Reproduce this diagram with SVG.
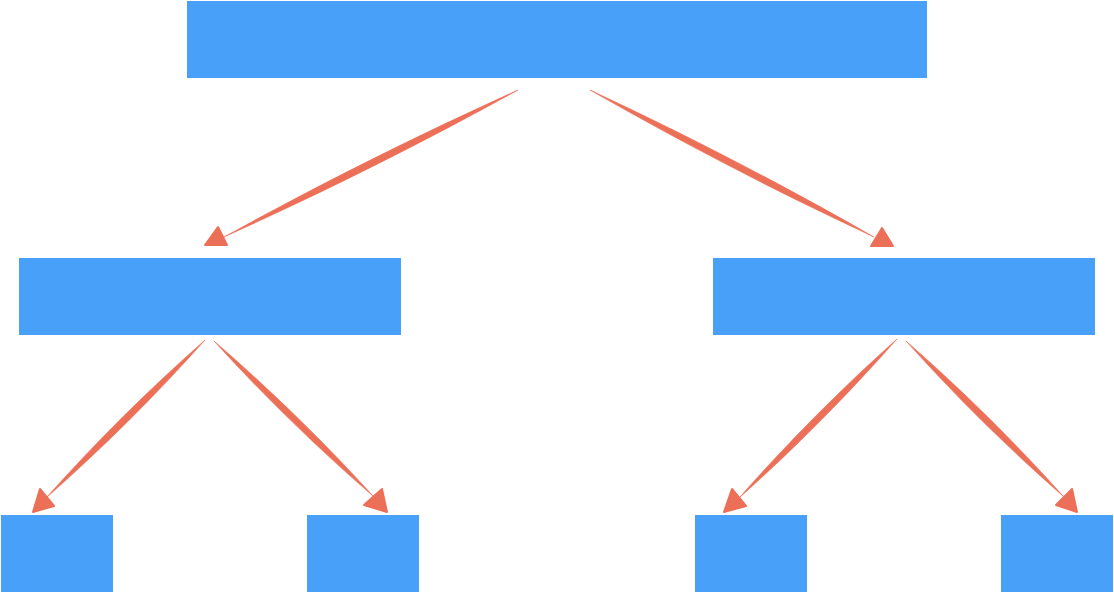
<svg xmlns="http://www.w3.org/2000/svg" width="1114" height="593" viewBox="0 0 1114 593">
<style>
.node{fill:#49a0f8}
.shaft{fill:#ec6f57;stroke:#ec6f57;stroke-width:0.6}
.head{fill:#ec6f57;stroke:#ec6f57;stroke-width:2;stroke-linejoin:round}
</style>
<rect width="1114" height="593" fill="#ffffff"/>
<g id="root"><rect class="node" x="187" y="1" width="740" height="77"/></g>
<g id="mid-left"><rect class="node" x="19" y="258" width="382" height="77"/></g>
<g id="mid-right"><rect class="node" x="713" y="258" width="382" height="77"/></g>
<g id="leaf-1"><rect class="node" x="1" y="515" width="112" height="77"/></g>
<g id="leaf-2"><rect class="node" x="307" y="515" width="112" height="77"/></g>
<g id="leaf-3"><rect class="node" x="695" y="515" width="112" height="77"/></g>
<g id="leaf-4"><rect class="node" x="1001" y="515" width="112" height="77"/></g>
<g id="connectors">
<path class="shaft" d="M518,90 C422,143 324,192 224,237 C320,184 418,135 518,90 Z"/>
<polygon class="head" points="205,245 218,227 227,245"/>
<path class="shaft" d="M590,90 C682.6,143 777.2,192 874,237 C781.4,184 686.8,135 590,90 Z"/>
<polygon class="head" points="871,246 882,228 893,246"/>
<path class="shaft" d="M205,340 C155.2,395.9 102.2,448.5 46,498 C95.8,442.1 148.8,389.5 205,340 Z"/>
<polygon class="head" points="33,512 40,489 54,506"/>
<path class="shaft" d="M214,341 C264.2,396.2 317.6,448.2 374,497 C323.8,441.8 270.4,389.8 214,341 Z"/>
<polygon class="head" points="364,505 382,489 387,512"/>
<path class="shaft" d="M897,339 C847.5,395.2 794.9,448.2 739,498 C788.5,441.8 841.1,388.8 897,339 Z"/>
<polygon class="head" points="724,512 732,489 746,506"/>
<path class="shaft" d="M906,341 C955.6,396.2 1008.2,448.2 1064,497 C1014.5,441.8 961.9,389.8 906,341 Z"/>
<polygon class="head" points="1056,505 1072,489 1077,512"/>
</g>
</svg>
